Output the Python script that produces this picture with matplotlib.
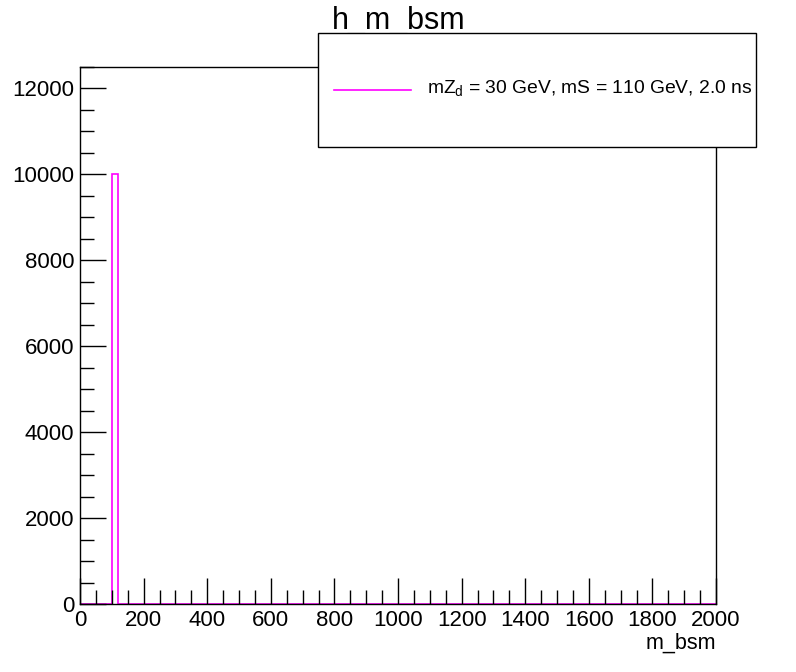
import matplotlib
matplotlib.use("Agg")
import matplotlib.pyplot as plt
import numpy as np
from matplotlib.patches import Rectangle
from matplotlib.lines import Line2D
from matplotlib.ticker import MultipleLocator

plt.rcParams['font.family'] = ['Liberation Sans', 'DejaVu Sans']

bin_edges = np.arange(0, 2001, 20)
counts = np.zeros(len(bin_edges) - 1)
peak_bin_low = 100
peak_count = 10000
counts[int(peak_bin_low / 20)] = peak_count
legend_label = r"mZ$_{\mathregular{d}}$ = 30 GeV, mS = 110 GeV, 2.0 ns"
title = "h_m_bsm"
xlabel = "m_bsm"

W, H = 796, 672
fig = plt.figure(figsize=(W / 100, H / 100), dpi=100)
ax = fig.add_axes([80 / W, (H - 604) / H, (716 - 80) / W, (604 - 67) / H])

ax.stairs(counts, bin_edges, color='#ff00ff', linewidth=1.2)
ax.set_xlim(0, 2000)
ax.set_ylim(0, 12500)

ax.xaxis.set_major_locator(MultipleLocator(200))
ax.xaxis.set_minor_locator(MultipleLocator(50))
ax.yaxis.set_major_locator(MultipleLocator(2000))
ax.yaxis.set_minor_locator(MultipleLocator(500))
ax.tick_params(which='both', direction='in', top=False, right=False, width=1, labelsize=16, color='black')
ax.tick_params(which='major', length=19, pad=4)
ax.tick_params(which='minor', length=10)
ax.tick_params(axis='x', which='major', length=19, pad=4)
for s in ax.spines.values():
    s.set_linewidth(1)

fig.text(716 / W, 1 - 643 / H, xlabel, ha='right', va='center', fontsize=15.5)
fig.text(332 / W, 1 - 21 / H, title, ha='left', va='center', fontsize=22)

# legend box
lx0, ly0, lx1, ly1 = 318, 33, 756, 147
rect = Rectangle((lx0 / W, 1 - ly1 / H), (lx1 - lx0) / W, (ly1 - ly0) / H,
                 transform=fig.transFigure, facecolor='white', edgecolor='black',
                 linewidth=1, zorder=10)
fig.add_artist(rect)
line = Line2D([334 / W, 411 / W], [1 - 90 / H, 1 - 90 / H], transform=fig.transFigure,
              color='#ff00ff', linewidth=1.2, zorder=11)
fig.add_artist(line)
fig.text(427 / W, 1 - 89 / H, legend_label, ha='left', va='center', fontsize=13.9, zorder=12)

fig.savefig("out.png", dpi=100)
